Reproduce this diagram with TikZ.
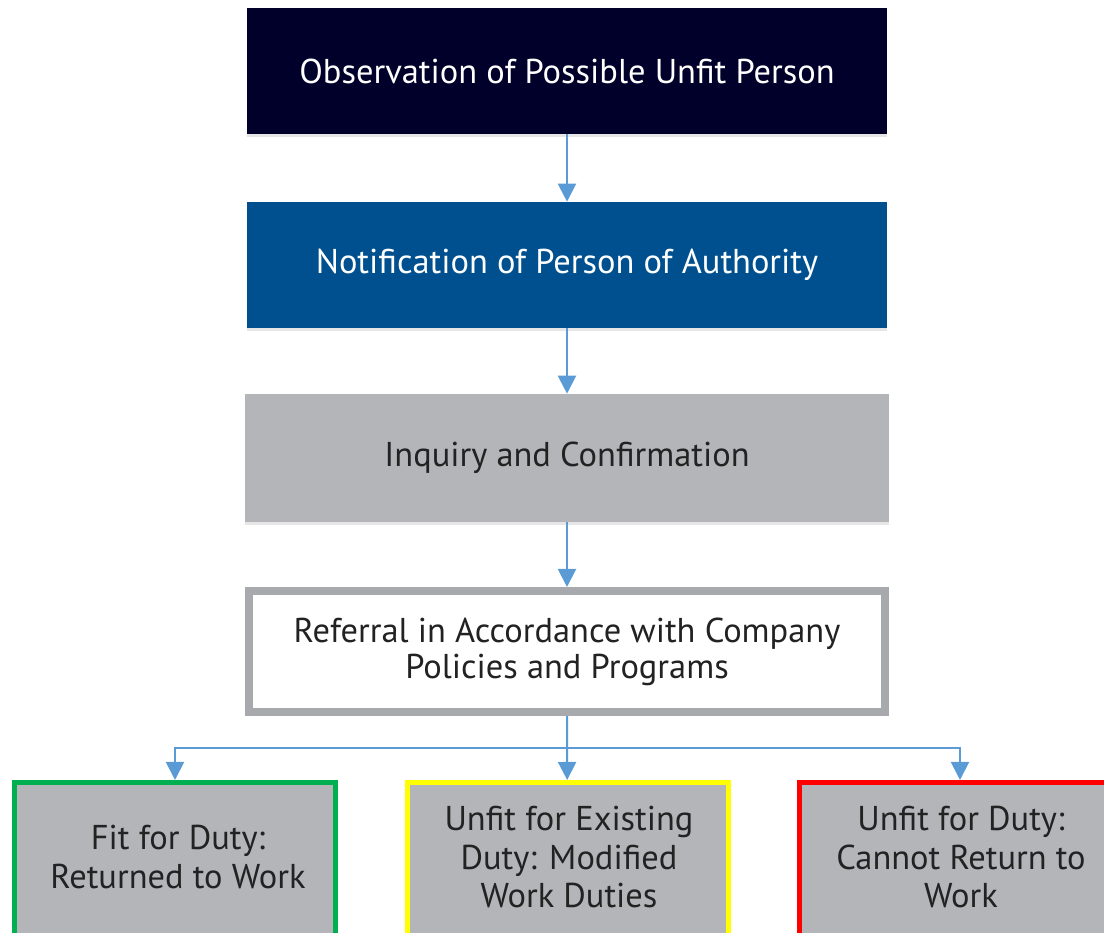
\documentclass[tikz,border=0pt]{standalone}
\usepackage{fontspec}
\setmainfont{PT Sans}
\usetikzlibrary{arrows.meta,shadows}
\definecolor{navybox}{HTML}{00002A}
\definecolor{bluebox}{HTML}{00508F}
\definecolor{greybox}{HTML}{B3B5B8}
\definecolor{greyline}{HTML}{A7A9AC}
\definecolor{flowblue}{HTML}{5B9BD5}
\definecolor{textgrey}{HTML}{222222}
\definecolor{fitgreen}{HTML}{00B050}
\definecolor{warnyellow}{HTML}{FFFF00}
\definecolor{stopred}{HTML}{FF0000}
\tikzset{
    stage/.style={rectangle, inner sep=0pt, align=center,
        minimum width=16cm, minimum height=3.15cm,
        font=\fontsize{24.5}{25.6}\selectfont,
        drop shadow={shadow xshift=0cm, shadow yshift=-0.08cm, opacity=0.2}},
    outcome/.style={rectangle, inner sep=0pt, fill=greybox, line width=0.125cm,
        minimum width=8.025cm, minimum height=6.25cm},
    outtext/.style={align=center, text=textgrey, font=\fontsize{24.5}{27.7}\selectfont},
    flow/.style={draw=flowblue, line width=0.05cm,
        -{Triangle[length=0.45cm, width=0.45cm]}},
    branch/.style={draw=flowblue, line width=0.05cm}
}
\begin{document}
\begin{tikzpicture}[x=0.025cm, y=-0.025cm]
    \useasboundingbox (0,0) rectangle (1104,933);
    \clip (0,0) rectangle (1104,933);
    % main chain
    \node[stage, fill=navybox, text=white] (observe) at (567,71) {Observation of Possible Unfit Person};
    \node[stage, fill=bluebox, text=white] (notify) at (567,265) {Notification of Person of Authority};
    \node[stage, fill=greybox, text=textgrey, minimum width=16.1cm, minimum height=3.2cm] (inquiry) at (567,458) {Inquiry and Confirmation};
    \node[stage, fill=white, draw=greyline, line width=0.2cm, text=textgrey,
        minimum width=15.9cm, minimum height=3.025cm] (refer) at (567,651.5)
        {Referral in Accordance with Company\\Policies and Programs};
    % outcomes
    \node[outcome, draw=fitgreen] (fit) at (175,907.5) {};
    \node[outcome, draw=warnyellow] (modified) at (568,907.5) {};
    \node[outcome, draw=stopred] (cannot) at (960,907.5) {};
    \node[outtext] (fittext) at (178,857) {Fit for Duty:\\Returned to Work};
    \node[outtext] (modtext) at (569,857) {Unfit for Existing\\Duty: Modified\\Work Duties};
    \node[outtext] (cantext) at (961,857) {Unfit for Duty:\\Cannot Return to\\Work};
    % connectors
    \draw[flow] (observe) -- (notify);
    \draw[flow] (notify) -- (inquiry);
    \draw[flow] (inquiry) -- (refer);
    \coordinate (split) at (567,748);
    \draw[flow] (refer) -- (split) -- (modified);
    \draw[flow] (split) -| (fit);
    \draw[flow] (split) -| (cannot);
\end{tikzpicture}
\end{document}
